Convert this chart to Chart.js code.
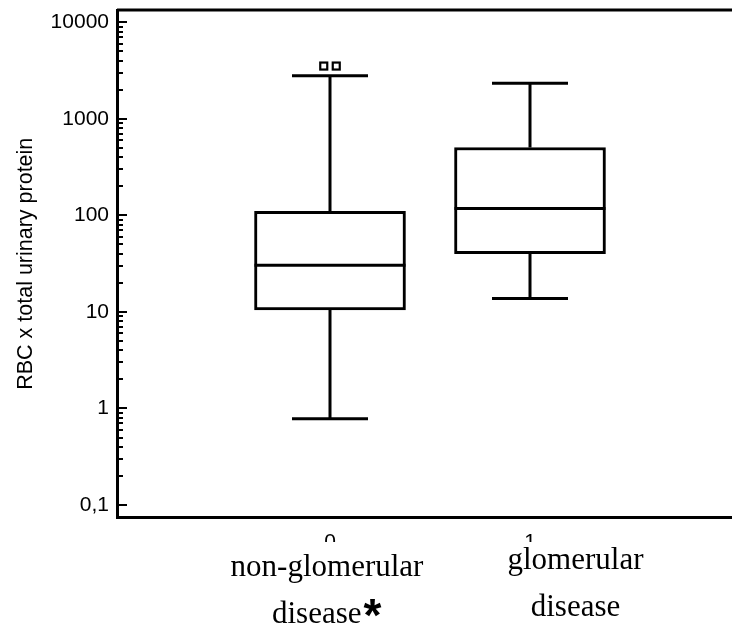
<!DOCTYPE html>
<html><head><meta charset="utf-8">
<script src="https://cdn.jsdelivr.net/npm/chart.js@4/dist/chart.umd.min.js"></script>
<style>html,body{margin:0;padding:0;background:#fff;}canvas{display:block;}</style>
</head><body>
<canvas id="c" width="732" height="633"></canvas>
<script>
// ---- data ----
const groups = [0, 1];
const groupTickLabels = ['0', '1'];
const categoryLines = [['non-glomerular', 'disease'], ['glomerular', 'disease']];
const categoryMarks = ['*', ''];
const whiskerLow = [0.78, 13.8];
const q1 = [10.5, 40];
const median = [30.5, 118];
const q3 = [110, 505];
const whiskerHigh = [2800, 2330];
const outliers = [[3520, 3520], []];
const yTickValues = [0.1, 1, 10, 100, 1000, 10000];
const yTickLabels = ['0,1', '1', '10', '100', '1000', '10000'];
const yAxisTitle = 'RBC x total urinary protein';

const SANS = '"Liberation Sans", Arial, sans-serif';
const SERIF = '"Liberation Serif", "Times New Roman", serif';

const boxExtras = {
  id: 'boxExtras',
  beforeDatasetsDraw(chart) {
    const ctx = chart.ctx, xs = chart.scales.x, ys = chart.scales.y;
    ctx.save();
    ctx.strokeStyle = '#000'; ctx.lineWidth = 3; ctx.lineCap = 'butt';
    groups.forEach((g, i) => {
      const px = xs.getPixelForValue(g);
      const half = 38;
      const yHi = ys.getPixelForValue(whiskerHigh[i]);
      const yLo = ys.getPixelForValue(whiskerLow[i]);
      const y3 = ys.getPixelForValue(q3[i]);
      const y1 = ys.getPixelForValue(q1[i]);
      ctx.beginPath();
      ctx.moveTo(px, y3); ctx.lineTo(px, yHi);
      ctx.moveTo(px, y1); ctx.lineTo(px, yLo);
      ctx.moveTo(px - half, yHi); ctx.lineTo(px + half, yHi);
      ctx.moveTo(px - half, yLo); ctx.lineTo(px + half, yLo);
      ctx.stroke();
    });
    ctx.restore();
  },
  afterDatasetsDraw(chart) {
    const ctx = chart.ctx, xs = chart.scales.x, ys = chart.scales.y, a = chart.chartArea;
    ctx.save();
    ctx.strokeStyle = '#000';
    const meta = chart.getDatasetMeta(0);
    ctx.lineWidth = 3;
    groups.forEach((g, i) => {
      const bar = meta.data[i];
      const w = bar.width;
      const ym = ys.getPixelForValue(median[i]);
      ctx.beginPath();
      ctx.moveTo(bar.x - w / 2, ym); ctx.lineTo(bar.x + w / 2, ym);
      ctx.stroke();
    });
    ctx.lineWidth = 2.2;
    groups.forEach((g, i) => {
      const px = xs.getPixelForValue(g);
      const n = outliers[i].length;
      outliers[i].forEach((v, k) => {
        const cx = px + (k - (n - 1) / 2) * 12.5;
        const cy = ys.getPixelForValue(v);
        ctx.strokeRect(cx - 3.5, cy - 3.5, 7, 7);
      });
    });
    ctx.lineWidth = 3;
    ctx.beginPath();
    ctx.moveTo(a.left, a.top); ctx.lineTo(a.right, a.top);
    ctx.stroke();
    ctx.lineWidth = 2;
    for (let k = -1; k <= 4; k++) {
      const base = Math.pow(10, k);
      for (let m = 1; m <= 9; m++) {
        const v = m * base;
        if (v < ys.min || v > ys.max) continue;
        if (k === 4 && m > 1) continue;
        const py = Math.round(ys.getPixelForValue(v));
        const len = m === 1 ? 10 : 6;
        ctx.beginPath();
        ctx.moveTo(a.left, py); ctx.lineTo(a.left + len, py);
        ctx.stroke();
      }
    }
    ctx.restore();
  },
  afterDraw(chart) {
    const ctx = chart.ctx, a = chart.chartArea;
    ctx.save();
    ctx.fillStyle = '#fff';
    ctx.fillRect(a.left + 3, 542, a.right - a.left, chart.height - 542);
    ctx.fillStyle = '#000';
    ctx.font = '31px ' + SERIF;
    ctx.textBaseline = 'alphabetic';
    const layout = [
      { c1: 327, b1: 576, c2: 316, b2: 623 },
      { c1: 575.5, b1: 569, c2: 575.5, b2: 616 }
    ];
    categoryLines.forEach((lines, i) => {
      const L = layout[i];
      ctx.textAlign = 'center';
      ctx.fillText(lines[0], L.c1, L.b1);
      if (categoryMarks[i]) {
        const w = ctx.measureText(lines[1]).width;
        const left = 272;
        ctx.textAlign = 'left';
        ctx.fillText(lines[1], left, L.b2);
        ctx.save();
        ctx.font = 'bold 46px ' + SANS;
        const m = ctx.measureText(categoryMarks[i]);
        const gw = m.actualBoundingBoxLeft + m.actualBoundingBoxRight;
        const gh = m.actualBoundingBoxAscent + m.actualBoundingBoxDescent;
        const cx = left + w + 2 + gw / 2, cy = 607.5;
        ctx.fillText(categoryMarks[i], cx - gw / 2 + m.actualBoundingBoxLeft, cy - gh / 2 + m.actualBoundingBoxAscent);
        ctx.restore();
      } else {
        ctx.fillText(lines[1], L.c2, L.b2);
      }
    });
    ctx.restore();
  }
};

new Chart(document.getElementById('c'), {
  type: 'bar',
  data: {
    datasets: [{
      data: groups.map((g, i) => ({ x: g, y: [q1[i], q3[i]] })),
      backgroundColor: '#fff',
      borderColor: '#000',
      borderWidth: 3,
      borderSkipped: false,
      barThickness: 151
    }]
  },
  options: {
    responsive: false,
    animation: false,
    devicePixelRatio: 1,
    layout: { padding: { top: 10, right: 0, left: 0, bottom: 0 } },
    plugins: { legend: { display: false }, tooltip: { enabled: false } },
    scales: {
      x: {
        type: 'linear', min: -1.065, max: 2.01, offset: false,
        afterBuildTicks: s => { s.ticks = groups.map(v => ({ value: v })); },
        ticks: {
          callback: v => { const i = groups.indexOf(v); return i >= 0 ? groupTickLabels[i] : ''; },
          font: { family: SANS, size: 21 }, color: '#000', padding: 12, maxRotation: 0, autoSkip: false
        },
        grid: { display: false, drawTicks: false, offset: false },
        border: { display: true, color: '#000', width: 3 },
        afterFit: s => { s.height = 115.5; s.paddingLeft = 0; s.paddingRight = 0; }
      },
      y: {
        type: 'logarithmic', min: 0.0742, max: 13400,
        afterBuildTicks: s => { s.ticks = yTickValues.map(v => ({ value: v })); },
        ticks: {
          callback: v => { const i = yTickValues.findIndex(t => Math.abs(t - v) / t < 1e-6); return i >= 0 ? yTickLabels[i] : ''; },
          font: { family: SANS, size: 21 }, color: '#000', padding: 8, autoSkip: false
        },
        grid: { display: false, drawTicks: false },
        border: { display: true, color: '#000', width: 3 },
        title: { display: true, text: yAxisTitle, font: { family: SANS, size: 21.5 }, color: '#000', padding: { top: 13, bottom: 0 } },
        afterFit: s => { s.width = 117; s.paddingTop = 0; s.paddingBottom = 0; }
      }
    }
  },
  plugins: [boxExtras]
});
</script>
</body></html>
